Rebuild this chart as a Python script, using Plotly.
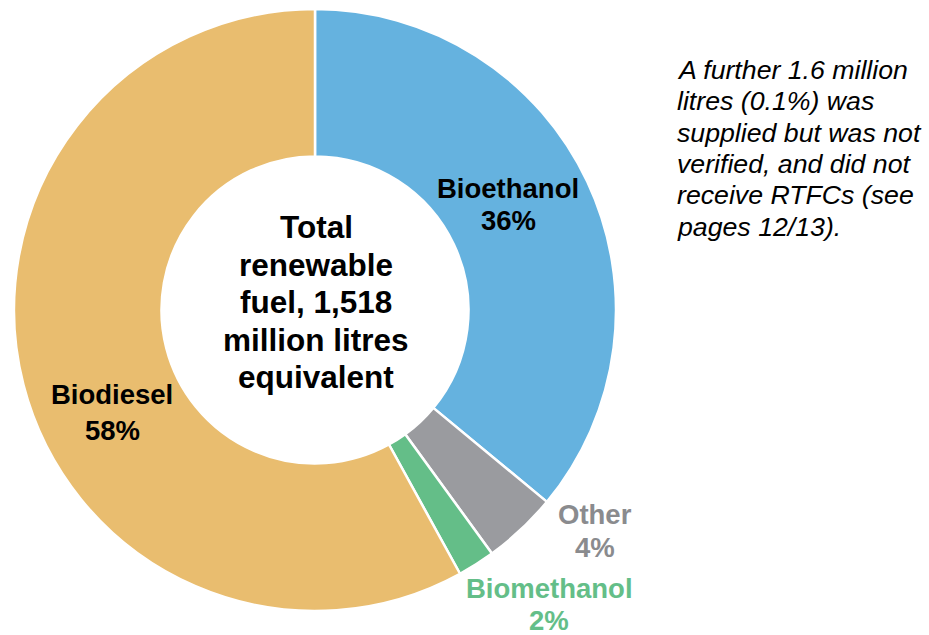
import plotly.graph_objects as go

categories = ["Bioethanol", "Other", "Biomethanol", "Biodiesel"]
shares = [36, 4, 2, 58]
colors = ["#65B2DF", "#9A9B9F", "#64BE88", "#E9BD6F"]
label_colors = ["#000000", "#8A8B8E", "#64BE88", "#000000"]
center_lines = ["Total", "renewable", "fuel, 1,518", "million litres", "equivalent"]
note_lines = ["A further 1.6 million", "litres (0.1%) was", "supplied but was not",
              "verified, and did not", "receive RTFCs (see", "pages 12/13)."]

W, H = 929, 635
def px(x): return x / W
def py(y): return 1 - y / H

fig = go.Figure(go.Pie(
    labels=categories, values=shares, sort=False, direction="clockwise",
    rotation=0, hole=0.51, textinfo="none", hoverinfo="label+percent",
    marker=dict(colors=colors, line=dict(color="white", width=2.5)),
    domain=dict(x=[px(14), px(616)], y=[py(611), py(9)]),
    showlegend=False,
))

ann = []
label_pos = [(508, 188, 220), (595, 514, 547), (549, 588, 620), (112, 394, 430)]
for cat, val, col, (lx, ly1, ly2) in zip(categories, shares, label_colors, label_pos):
    for txt, ly in ((cat, ly1), (f"{val}%", ly2)):
        ann.append(dict(x=px(lx), y=py(ly), xref="paper", yref="paper", text=f"<b>{txt}</b>",
                        showarrow=False, xanchor="center", yanchor="middle",
                        font=dict(family="Liberation Sans, Arial", size=27.5, color=col)))

for i, t in enumerate(center_lines):
    ann.append(dict(x=px(316), y=py(227 + 37.5 * i), xref="paper", yref="paper", text=f"<b>{t}</b>",
                    showarrow=False, xanchor="center", yanchor="middle",
                    font=dict(family="Liberation Sans, Arial", size=31.5, color="#000000")))

for i, t in enumerate(note_lines):
    ann.append(dict(x=px(675), y=py(70 + 31.3 * i), xref="paper", yref="paper", text=f"<i>{t}</i>",
                    showarrow=False, xanchor="left", yanchor="middle",
                    font=dict(family="Liberation Sans, Arial", size=26.7, color="#000000")))

fig.update_layout(width=W, height=H, margin=dict(l=0, r=0, t=0, b=0),
                  paper_bgcolor="white", plot_bgcolor="white", annotations=ann)
fig.write_html("out.html", config={"displayModeBar": False},
               post_script="document.body.style.margin='0';document.body.style.overflow='hidden';")
